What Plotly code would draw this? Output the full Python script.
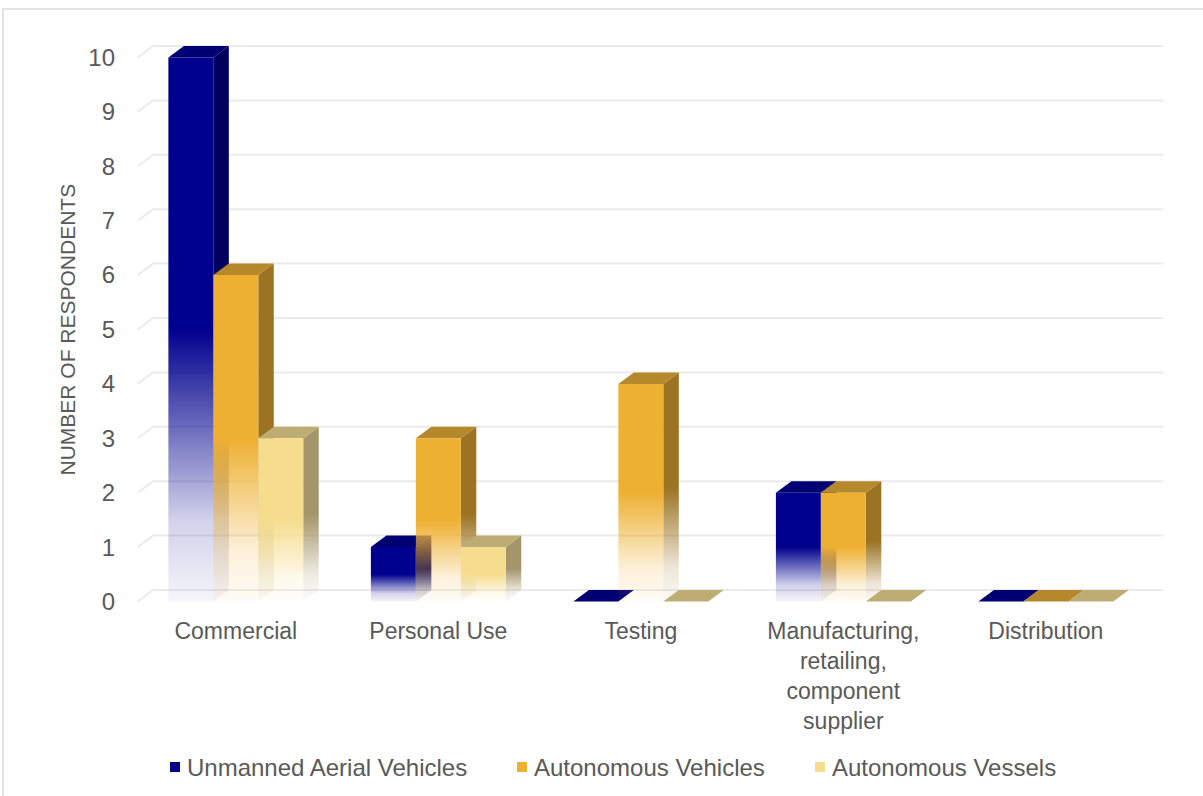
import plotly.graph_objects as go

# ---- data -------------------------------------------------------------
categories = [
    "Commercial",
    "Personal Use",
    "Testing",
    "Manufacturing,<br>retailing,<br>component<br>supplier",
    "Distribution",
]
series_names = ["Unmanned Aerial Vehicles", "Autonomous Vehicles", "Autonomous Vessels"]
uav_counts = [10, 1, 0, 2, 0]
av_counts = [6, 3, 4, 2, 0]
vessel_counts = [3, 1, 0, 0, 0]
y_ticks = [0, 1, 2, 3, 4, 5, 6, 7, 8, 9, 10]

series_values = [uav_counts, av_counts, vessel_counts]

# ---- styling ------------------------------------------------------------
FRONT_RGB = [(0, 0, 142), (238, 176, 49), (246, 221, 142)]
SIDE_RGB = [(0, 0, 92), (155, 115, 34), (164, 149, 106)]
TOP_COL = ["#000072", "#B5892B", "#BDAD73"]
LEGEND_COL = ["#00008B", "#EEB031", "#F6DD8E"]
TEXT_COL = "#595959"
FONT = "Liberation Sans, Arial, sans-serif"

# page layout in pixels
W_PX, H_PX = 1203, 796
M_L, M_R, M_T, M_B = 130, 33, 20, 184
PLOT_W = W_PX - M_L - M_R
PLOT_H = H_PX - M_T - M_B
PLOT_BOTTOM = H_PX - M_B


def px_to_paper_x(px):
    return (px - M_L) / PLOT_W


def px_to_paper_y(py):
    return (PLOT_BOTTOM - py) / PLOT_H


# bar geometry in axis units (category spacing = 1, value units on y)
BAR_W = 0.222
DEPTH_X = 0.0765
DEPTH_Y = 0.211
GRID_X0 = -0.485
GRID_X1 = 4.58

# legend entry start positions (px) and row centre
LEGEND_X_PX = [170, 517, 815]
LEGEND_Y_PX = 767


def rgba(c, a):
    return f"rgba({c[0]},{c[1]},{c[2]},{a})"


def fade_scale(c):
    # colour fades towards white near the floor
    return [
        [0.0, rgba(c, 0.04)],
        [0.15, rgba(c, 0.18)],
        [0.5, rgba(c, 1.0)],
        [1.0, rgba(c, 1.0)],
    ]


fig = go.Figure()

# back-wall gridlines with a short floor diagonal on the left
gx, gy = [], []
for v in y_ticks:
    gx += [GRID_X0, GRID_X0 + DEPTH_X, GRID_X1, None]
    gy += [v, v + DEPTH_Y, v + DEPTH_Y, None]
fig.add_trace(go.Scatter(x=gx, y=gy, mode="lines",
                         line=dict(color="#ebebeb", width=2),
                         showlegend=False, hoverinfo="skip"))


def poly(xs, ys, **kw):
    fig.add_trace(go.Scatter(x=xs + [xs[0]], y=ys + [ys[0]], mode="lines",
                             fill="toself", line=dict(width=0),
                             showlegend=False, hoverinfo="skip", **kw))


for i in range(len(categories)):
    for s, values in enumerate(series_values):
        v = values[i]
        x0 = i - 1.5 * BAR_W + s * BAR_W
        x1 = x0 + BAR_W
        if v > 0:
            # right side face
            poly([x1, x1 + DEPTH_X, x1 + DEPTH_X, x1],
                 [0, DEPTH_Y, v + DEPTH_Y, v],
                 fillgradient=dict(type="vertical", colorscale=fade_scale(SIDE_RGB[s])))
            # top face
            poly([x0, x1, x1 + DEPTH_X, x0 + DEPTH_X],
                 [v, v, v + DEPTH_Y, v + DEPTH_Y],
                 fillcolor=TOP_COL[s])
            # front face
            poly([x0, x1, x1, x0],
                 [0, 0, v, v],
                 fillgradient=dict(type="vertical", colorscale=fade_scale(FRONT_RGB[s])))
        else:
            # empty value: only the flat top sitting on the floor
            poly([x0, x1, x1 + DEPTH_X, x0 + DEPTH_X],
                 [0, 0, DEPTH_Y, DEPTH_Y],
                 fillcolor=TOP_COL[s])

# legend row: colour swatch + series name
shapes = []
annotations = []
for s, name in enumerate(series_names):
    sx = LEGEND_X_PX[s]
    shapes.append(dict(type="rect", xref="paper", yref="paper",
                       x0=px_to_paper_x(sx), x1=px_to_paper_x(sx + 10),
                       y0=px_to_paper_y(LEGEND_Y_PX + 5), y1=px_to_paper_y(LEGEND_Y_PX - 5),
                       fillcolor=LEGEND_COL[s], line=dict(width=0)))
    annotations.append(dict(text=name, showarrow=False, xref="paper", yref="paper",
                            x=px_to_paper_x(sx + 15), y=px_to_paper_y(LEGEND_Y_PX),
                            xanchor="left", yanchor="middle",
                            font=dict(size=24, color=TEXT_COL, family=FONT)))

annotations.append(dict(text="NUMBER OF RESPONDENTS", textangle=-90, showarrow=False,
                        xref="paper", yref="y", x=px_to_paper_x(67), y=5,
                        xanchor="center", yanchor="middle",
                        font=dict(size=21, color=TEXT_COL, family=FONT)))

# outer frame
shapes.append(dict(type="rect", xref="paper", yref="paper",
                   x0=px_to_paper_x(3), x1=px_to_paper_x(W_PX + 8),
                   y0=px_to_paper_y(H_PX + 8), y1=px_to_paper_y(9),
                   line=dict(color="#d9d9d9", width=1.5), fillcolor="rgba(0,0,0,0)",
                   layer="below"))

fig.update_layout(
    width=W_PX,
    height=H_PX,
    margin=dict(l=M_L, r=M_R, t=M_T, b=M_B),
    paper_bgcolor="white",
    plot_bgcolor="white",
    font=dict(family=FONT, color=TEXT_COL, size=23),
    showlegend=False,
    xaxis=dict(range=[-0.5225, 4.613], tickvals=list(range(len(categories))),
               ticktext=categories, showgrid=False, zeroline=False, showline=False,
               ticks="", ticklabelstandoff=3,
               tickfont=dict(size=23, color=TEXT_COL, family=FONT),
               fixedrange=True),
    yaxis=dict(range=[-0.193, 10.689], tickvals=y_ticks,
               ticktext=[str(t) for t in y_ticks], showgrid=False, zeroline=False,
               showline=False, ticks="", ticklabelstandoff=14,
               tickfont=dict(size=24, color=TEXT_COL, family=FONT), fixedrange=True),
    annotations=annotations,
    shapes=shapes,
)

fig.write_html("out.html")
